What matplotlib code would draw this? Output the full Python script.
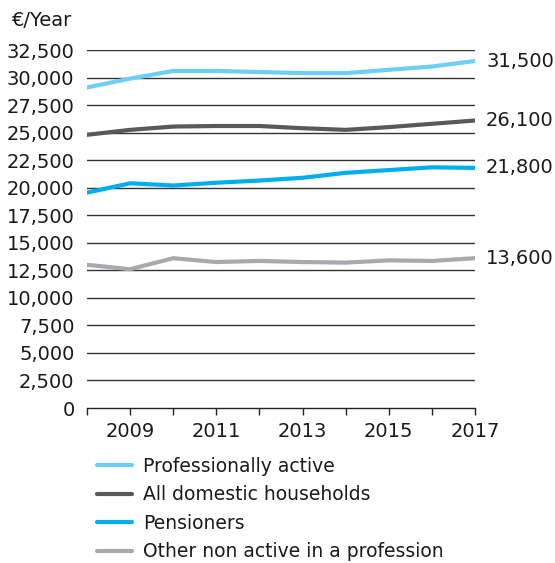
import matplotlib
matplotlib.use("Agg")
import matplotlib.pyplot as plt
from matplotlib.ticker import FuncFormatter

years = [2008, 2009, 2010, 2011, 2012, 2013, 2014, 2015, 2016, 2017]
prof_active = [29100, 29900, 30600, 30600, 30500, 30400, 30400, 30700, 31000, 31500]
all_households = [24800, 25250, 25550, 25600, 25600, 25400, 25250, 25500, 25800, 26100]
pensioners = [19550, 20400, 20200, 20450, 20650, 20900, 21350, 21600, 21850, 21800]
other_non_active = [13000, 12600, 13600, 13250, 13350, 13250, 13200, 13400, 13350, 13600]

series_names = ["Professionally active", "All domestic households", "Pensioners",
                "Other non active in a profession"]
end_labels = ["31,500", "26,100", "21,800", "13,600"]
colors = ["#6DCFF6", "#58595B", "#00AEEF", "#A7A9AC"]

plt.rcParams['font.family'] = ['DejaVu Sans']
FS = 14
TXT = "#1a1a1a"

fig = plt.figure(figsize=(5.55, 5.63), dpi=100)
ax = fig.add_axes([87/555, 1-408/563, (475-87)/555, (408-50)/563])

yticks = list(range(0, 32501, 2500))
for v in yticks[1:]:
    ax.axhline(v, color="#333333", lw=1.0, zorder=1)

data = [prof_active, all_households, pensioners, other_non_active]
for vals, name, c, lab in zip(data, series_names, colors, end_labels):
    ax.plot(years, vals, color=c, lw=3.0, solid_capstyle='round', label=name, zorder=3)
    ax.annotate(lab, xy=(years[-1], vals[-1]), xytext=(8.0, 0), textcoords='offset points',
                va='center', ha='left', fontsize=FS, color=TXT, annotation_clip=False)

ax.set_xlim(2008, 2017)
ax.set_ylim(0, 32500)
ax.set_yticks(yticks)
ax.yaxis.set_major_formatter(FuncFormatter(lambda v, p: f"{int(v):,}"))
ax.set_xticks(years)
ax.set_xticklabels([str(y) if y % 2 == 1 else "" for y in years])
ax.tick_params(axis='y', length=0, pad=9, labelsize=FS, labelcolor=TXT)
ax.tick_params(axis='x', length=5, width=1, direction='out', pad=5, labelsize=FS,
               labelcolor=TXT, color="#222222")
for s in ['top', 'right', 'left']:
    ax.spines[s].set_visible(False)
ax.spines['bottom'].set_color("#222222")
ax.spines['bottom'].set_linewidth(1.0)

fig.text(12/555, 1-20/563, "€/Year", fontsize=FS, va='center', ha='left', color=TXT)

leg = fig.legend(loc='upper left', bbox_to_anchor=(97/555, 1-457/563), frameon=False,
                 fontsize=13.5, handlelength=1.85, handletextpad=0.6, labelspacing=0.5,
                 borderaxespad=0, borderpad=0)
for t in leg.get_texts():
    t.set_color(TXT)

fig.savefig("out.png", dpi=100)
